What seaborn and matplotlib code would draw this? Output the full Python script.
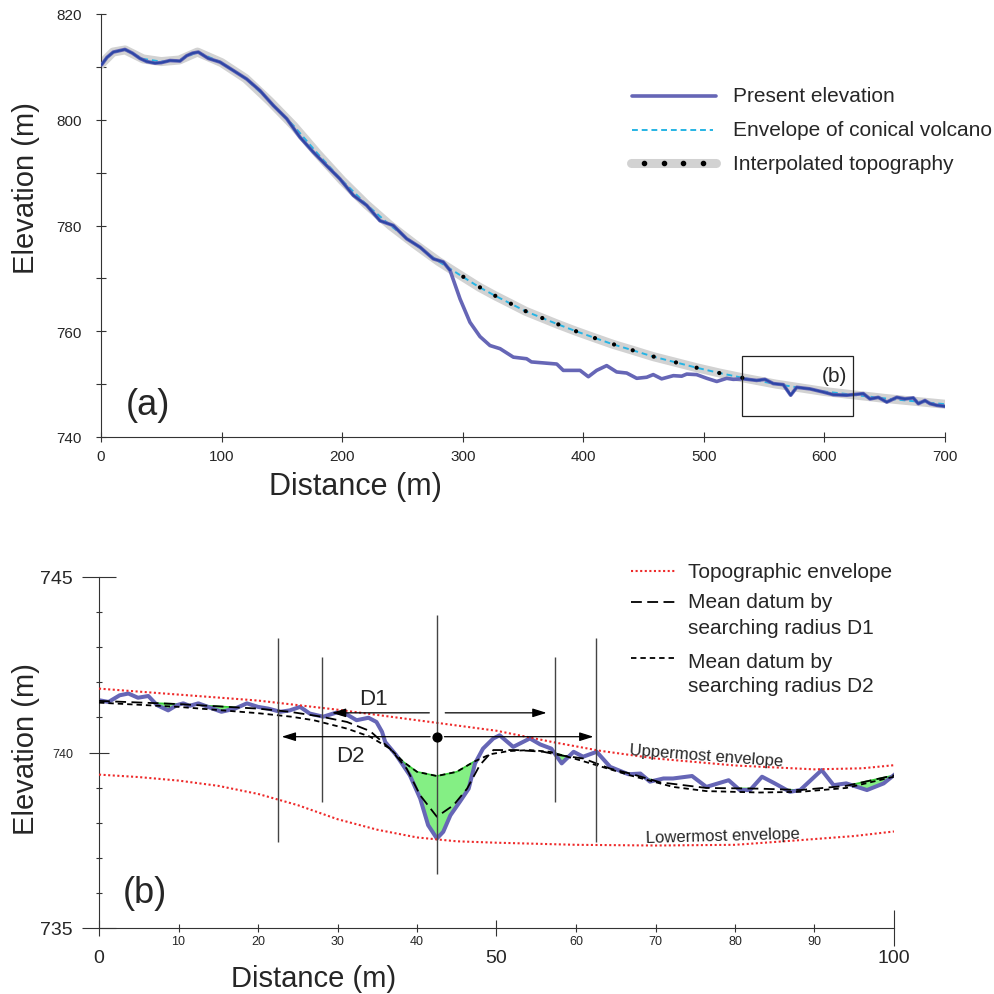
import numpy as np
import matplotlib
matplotlib.use('Agg')
import matplotlib.pyplot as plt
from matplotlib.lines import Line2D
from matplotlib.patches import Rectangle
import seaborn as sns

sns.set_theme(style='ticks')
plt.rcParams['font.family'] = ['Liberation Sans', 'DejaVu Sans']

# ---------------- panel (a) data ----------------
dist_a = [0.5, 5, 10.2, 19.9, 26, 32.3, 38, 44.8, 50, 57.2, 65.5, 71, 76, 80.7, 89, 98.7,
          109.8, 120.8, 131.9, 142.9, 154, 165, 176, 187.2, 198.2, 209.3, 220.4, 231.4,
          242.4, 253.5, 264.6, 275.6, 283.9, 289.5, 297.8, 306, 314.3, 322.6, 331, 342,
          353, 357, 378, 383.4, 397.3, 404.2, 411.1, 419.4, 427.7, 436, 444.3, 452.6, 458,
          465, 474.7, 481.6, 485.8, 494, 502.4, 510.7, 519, 524.4, 532.7, 543.8, 550.7,
          557.6, 565.9, 572, 577, 588, 599, 607.4, 618.5, 632.3, 637.8, 644.7, 651.7, 660,
          666.8, 673.7, 677.9, 683.4, 687.6, 693.1, 700]
elev_a = [810.4, 811.8, 812.8, 813.3, 812.6, 811.6, 811.0, 810.7, 810.8, 811.2, 811.1, 812.1,
          812.6, 812.8, 811.6, 810.9, 809.3, 807.7, 805.5, 802.7, 800.2, 796.7, 793.9, 791.3,
          788.8, 785.7, 783.8, 780.9, 780.0, 777.5, 775.9, 773.7, 773.1, 771.5, 766.1, 761.7,
          759.0, 757.3, 756.7, 755.1, 754.8, 754.2, 753.8, 752.6, 752.6, 751.4, 752.6, 753.5,
          752.3, 752.1, 751.1, 751.3, 751.8, 751.0, 751.6, 751.5, 751.9, 751.8, 751.1, 750.5,
          751.1, 750.9, 751.0, 750.7, 750.9, 750.1, 749.9, 747.9, 749.4, 749.1, 748.5, 748.0,
          747.9, 748.2, 747.2, 747.5, 746.6, 747.5, 747.2, 747.4, 746.3, 746.9, 746.3, 746.0,
          745.8]
env_d = [0, 10, 20, 35, 50, 65, 80, 100, 120, 140, 160, 180, 200, 220, 240, 260, 280, 300,
         314, 327, 340, 352, 366, 379, 394, 410, 425, 441, 458, 477, 494, 513, 532, 560, 600,
         650, 700]
env_e = [810.5, 812.8, 813.2, 811.5, 811.0, 811.3, 812.8, 810.8, 807.8, 803.5, 798.8, 793.5,
         788.5, 784.0, 780.0, 776.5, 773.2, 770.3, 768.3, 766.7, 765.2, 763.8, 762.5, 761.3,
         760.0, 758.7, 757.5, 756.4, 755.2, 754.1, 753.1, 752.1, 751.2, 750.0, 748.6, 747.3,
         746.2]
dot_d = [300.5, 314.3, 327, 340, 352.2, 366, 379.3, 394, 409.7, 425.5, 441, 458.4, 476.9,
         494, 512.8, 531.9]
dot_e = [770.3, 768.3, 766.7, 765.2, 763.8, 762.5, 761.3, 760.0, 758.7, 757.5, 756.4, 755.2,
         754.1, 753.1, 752.1, 751.2]
collapse_start, collapse_end = 290, 532
box_x = [532, 624]
box_y = [743.9, 755.4]

# ---------------- panel (b) data ----------------
dist_b = [0, 1.2, 2.6, 3.7, 4.9, 6.2, 7.3, 8.7, 9.8, 10.6, 11.4, 12.5, 13.7, 15.4, 17.1, 18.6,
          20.0, 21.3, 22.8, 24.0, 25.3, 26.5, 28.2, 29.9, 31.2, 32.4, 33.9, 34.9, 35.6, 36.0,
          37.4, 39.1, 40.4, 41.4, 42.5, 43.3, 44.2, 45.4, 46.5, 47.3, 48.3, 49.6, 50.4, 52.1,
          54.2, 55.5, 56.9, 58.2, 59.7, 60.9, 62.6, 64.3, 66.6, 68.1, 69.3, 71.0, 72.2, 74.6,
          76.4, 79.2, 80.6, 81.9, 83.4, 85.0, 86.9, 88.2, 90.9, 92.4, 94.0, 96.6, 98.7, 100.5]
elev_b = [741.49, 741.44, 741.63, 741.68, 741.56, 741.61, 741.35, 741.2, 741.35, 741.4,
          741.33, 741.4, 741.3, 741.16, 741.25, 741.4, 741.3, 741.25, 741.16, 741.2, 741.3,
          741.11, 741.02, 741.14, 741.08, 740.92, 740.99, 740.87, 740.59, 740.3, 739.92,
          739.35, 738.69, 737.93, 737.55, 737.74, 738.21, 738.6, 738.97, 739.69, 740.11,
          740.4, 740.49, 740.16, 740.4, 740.23, 740.11, 739.69, 740.02, 739.88, 740.02,
          739.59, 739.38, 739.4, 739.17, 739.26, 739.26, 739.33, 739.02, 739.21, 738.93,
          738.93, 739.31, 739.12, 738.88, 738.93, 739.5, 739.07, 739.12, 738.93, 739.12,
          739.45]
up_d = [0, 10, 20, 30, 40, 50, 57, 63, 70, 80, 90, 96, 101]
up_e = [741.82, 741.65, 741.48, 741.22, 740.92, 740.62, 740.3, 740.05, 739.83, 739.63,
        739.52, 739.55, 739.66]
lo_d = [0, 5, 10, 15, 20, 25, 30, 35, 40, 45, 50, 60, 70, 80, 88, 95, 100]
lo_e = [739.37, 739.3, 739.2, 739.05, 738.82, 738.5, 738.1, 737.8, 737.58, 737.47, 737.43,
        737.37, 737.35, 737.37, 737.5, 737.62, 737.75]
d1_d = [0, 10, 20, 24, 28, 31.2, 34.1, 36.6, 38.7, 40.4, 42.5, 44.6, 46.3, 47.9, 49.6, 52.5,
        55.9, 58, 60.9, 64.3, 66.8, 70.6, 76.4, 83.1, 88.2, 94, 100]
d1_e = [741.47, 741.38, 741.25, 741.16, 741.02, 740.87, 740.61, 740.11, 739.54, 738.78,
        738.17, 738.5, 738.97, 739.64, 740.07, 740.07, 740.02, 739.92, 739.83, 739.54, 739.4,
        739.15, 738.99, 738.97, 738.93, 739.05, 739.35]
d2_d = [0, 10, 20, 24.2, 27, 31.2, 34.1, 36.6, 38.3, 40, 42.5, 45, 47.1, 49.2, 51.5, 54.2,
        56.7, 60.5, 66.8, 72.2, 76.4, 83.1, 88.2, 94, 100]
d2_e = [741.42, 741.3, 741.12, 741.02, 740.92, 740.68, 740.45, 740.11, 739.73, 739.45,
        739.33, 739.45, 739.73, 739.95, 740.04, 740.07, 740.02, 739.78, 739.35, 739.02,
        738.9, 738.86, 738.88, 738.99, 739.31]
center_x = 42.55
d1_lines = [28.1, 57.3]
d1_span = [738.6, 742.73]
d2_lines = [22.55, 62.56]
d2_span = [737.46, 743.27]
center_span = [736.55, 743.93]
d1_row = 741.13
d2_row = 740.45

# ---------------- figure ----------------
W = 995.0
fig = plt.figure(figsize=(9.95, 9.95), dpi=100)
ax1 = fig.add_axes([101 / W, 1 - 438 / W, 844 / W, 423 / W])
ax2 = fig.add_axes([99 / W, 1 - 929 / W, 795 / W, 351 / W])

LAV = '#6666b6'
DARK = '#2d46a6'
CYAN = '#26b4e4'
GREY = '#d2d2d2'
RED = '#ee2a2a'

# ---- panel (a)
sns.lineplot(x=env_d, y=env_e, ax=ax1, color=GREY, lw=6.5, estimator=None, sort=False,
             solid_capstyle='round', zorder=1)
sns.lineplot(x=env_d, y=env_e, ax=ax1, color=CYAN, lw=1.4, estimator=None, sort=False,
             linestyle=(0, (3, 2)), zorder=2)
sns.lineplot(x=dist_a, y=elev_a, ax=ax1, color=LAV, lw=2.6, estimator=None, sort=False,
             zorder=3)
da = np.array(dist_a)
ea = np.array(elev_a)
m1 = da <= collapse_start
m2 = da >= collapse_end
sns.lineplot(x=da[m1], y=ea[m1], ax=ax1, color=DARK, lw=1.5, estimator=None, sort=False, zorder=4)
sns.lineplot(x=da[m2], y=ea[m2], ax=ax1, color=DARK, lw=1.5, estimator=None, sort=False, zorder=4)
sns.scatterplot(x=dot_d, y=dot_e, ax=ax1, color='black', s=9, edgecolor='none', zorder=5)
ax1.add_patch(Rectangle((box_x[0], box_y[0]), box_x[1] - box_x[0], box_y[1] - box_y[0],
                        fill=False, ec='#222222', lw=0.9, zorder=6))
ax1.text(607.9, 751.7, '(b)', fontsize=15, ha='center', va='center')
ax1.text(38.6, 746.2, '(a)', fontsize=26, ha='center', va='center')

ax1.set_xlim(0, 700)
ax1.set_ylim(740, 820)
ax1.set_xticks(np.arange(0, 701, 100))
ax1.set_yticks(np.arange(740, 821, 20))
ax1.set_yticks(np.arange(750, 811, 20), minor=True)
ax1.tick_params(which='both', direction='inout', length=7.2, width=0.8, color='#333333',
                labelsize=11, bottom=True, left=True)
ax1.tick_params(axis='y', pad=10)
ax1.tick_params(axis='x', pad=5)
for s in ['top', 'right']:
    ax1.spines[s].set_visible(False)
for s in ['left', 'bottom']:
    ax1.spines[s].set_linewidth(0.8)
    ax1.spines[s].set_color('#333333')
ax1.set_xlabel('Distance (m)', fontsize=22)
ax1.set_ylabel('Elevation (m)', fontsize=21)
ax1.xaxis.set_label_coords(0.301, -0.080)
ax1.yaxis.set_label_coords(-0.0723, 0.591)


def fy(py):
    return 1 - py / W


def fx(px):
    return px / W


# legend (a)
fig.add_artist(Line2D([fx(632), fx(716)], [fy(96.7)] * 2, color=LAV, lw=2.6))
fig.add_artist(Line2D([fx(632), fx(713)], [fy(131)] * 2, color=CYAN, lw=1.4,
                      linestyle=(0, (3, 2))))
fig.add_artist(Line2D([fx(631), fx(716)], [fy(164.3)] * 2, color=GREY, lw=6.5,
                      solid_capstyle='round'))
fig.add_artist(Line2D([fx(644.3), fx(663.7), fx(683.3), fx(702.7)], [fy(164.3)] * 4,
                      color='black', marker='o', ms=3, linestyle='none'))
for yy, t in [(96.7, 'Present elevation'), (131, 'Envelope of conical volcano'),
              (164.3, 'Interpolated topography')]:
    fig.text(fx(733), fy(yy), t, fontsize=15, ha='left', va='center')

# ---- panel (b)
grid = np.linspace(0, 100.5, 3000)
pb = np.interp(grid, dist_b, elev_b)
datum_top = np.maximum(np.interp(grid, d1_d, d1_e), np.interp(grid, d2_d, d2_e))
ax2.fill_between(grid, pb, datum_top, where=pb < datum_top, interpolate=True,
                 facecolor='#84ef84', edgecolor='#35cc35', lw=1.2, zorder=1)
sns.lineplot(x=dist_b, y=elev_b, ax=ax2, color=LAV, lw=2.9, estimator=None, sort=False,
             zorder=2)
sns.lineplot(x=up_d, y=up_e, ax=ax2, color=RED, lw=1.5, estimator=None, sort=False,
             linestyle=(0, (1, 1.2)), zorder=3)
sns.lineplot(x=lo_d, y=lo_e, ax=ax2, color=RED, lw=1.5, estimator=None, sort=False,
             linestyle=(0, (1, 1.2)), zorder=3)
sns.lineplot(x=d1_d, y=d1_e, ax=ax2, color='black', lw=1.3, estimator=None, sort=False,
             linestyle=(0, (6, 3)), zorder=4)
sns.lineplot(x=d2_d, y=d2_e, ax=ax2, color='black', lw=1.3, estimator=None, sort=False,
             linestyle=(0, (3, 2.2)), zorder=4)

ax2.vlines(d1_lines, d1_span[0], d1_span[1], color='#444444', lw=1.0, zorder=5)
ax2.vlines(d2_lines, d2_span[0], d2_span[1], color='#444444', lw=1.0, zorder=5)
ax2.vlines([center_x], center_span[0], center_span[1], color='#444444', lw=1.0, zorder=5)

arr = dict(arrowstyle='-|>,head_length=0.7,head_width=0.22', color='black', lw=0.9,
           shrinkA=0, shrinkB=0)
ax2.annotate('', xy=(29.3, d1_row), xytext=(center_x - 1.0, d1_row), arrowprops=arr, zorder=6)
ax2.annotate('', xy=(56.3, d1_row), xytext=(center_x + 1.0, d1_row), arrowprops=arr, zorder=6)
ax2.annotate('', xy=(22.98, d2_row), xytext=(center_x - 0.9, d2_row), arrowprops=arr, zorder=6)
ax2.annotate('', xy=(62.2, d2_row), xytext=(center_x + 0.9, d2_row), arrowprops=arr, zorder=6)
ax2.scatter([center_x], [d2_row], s=40, color='black', zorder=7)

ax2.text(34.55, 741.54, 'D1', fontsize=16, ha='center', va='center')
ax2.text(31.57, 739.92, 'D2', fontsize=16, ha='center', va='center')
ax2.text(76.4, 739.92, 'Uppermost envelope', fontsize=12, ha='center', va='center',
         rotation=-4.3, rotation_mode='anchor')
ax2.text(78.5, 737.64, 'Lowermost envelope', fontsize=12, ha='center', va='center',
         rotation=1.6, rotation_mode='anchor')
ax2.text(5.72, 736.0, '(b)', fontsize=26, ha='center', va='center')

ax2.set_xlim(0, 100)
ax2.set_ylim(735, 745)
ax2.set_xticks([0, 50, 100])
ax2.set_xticklabels(['0', '50', '100'], fontsize=14)
ax2.set_xticks([10, 20, 30, 40, 60, 70, 80, 90], minor=True)
ax2.set_xticklabels(['10', '20', '30', '40', '60', '70', '80', '90'], minor=True, fontsize=9)
ax2.set_yticks([735, 740, 745])
ax2.set_yticklabels(['735', '740', '745'], fontsize=14)
ax2.set_yticks([736, 737, 738, 739, 741, 742, 743, 744], minor=True)
ax2.tick_params(which='both', direction='inout', color='#333333', width=0.8,
                bottom=True, left=True)
ax2.tick_params(axis='x', which='major', length=11.5, pad=9.4)
ax2.tick_params(axis='x', which='minor', length=5.8, pad=2.1)
ax2.tick_params(axis='y', which='major', length=23.8, pad=6.8)
ax2.tick_params(axis='y', which='minor', length=5.0)
yt = ax2.yaxis.get_major_ticks()
yt[1].tick1line.set_markersize(13.7)
yt[1].label1.set_fontsize(9)
xt = ax2.xaxis.get_major_ticks()
xt[2].tick1line.set_markersize(26.6)
for s in ['top', 'right']:
    ax2.spines[s].set_visible(False)
for s in ['left', 'bottom']:
    ax2.spines[s].set_linewidth(0.8)
    ax2.spines[s].set_color('#333333')
ax2.set_xlabel('Distance (m)', fontsize=21)
ax2.set_ylabel('Elevation (m)', fontsize=21)
ax2.xaxis.set_label_coords(0.270, -0.1026)
ax2.yaxis.set_label_coords(-0.0742, 0.513)

# legend (b)
fig.add_artist(Line2D([fx(631), fx(675)], [fy(572)] * 2, color=RED, lw=1.5,
                      linestyle=(0, (1, 1.2))))
fig.add_artist(Line2D([fx(631), fx(675)], [fy(603)] * 2, color='black', lw=1.3,
                      linestyle=(0, (6, 3))))
fig.add_artist(Line2D([fx(631), fx(675)], [fy(659)] * 2, color='black', lw=1.3,
                      linestyle=(0, (3, 2.2))))
for yy, t in [(573, 'Topographic envelope'), (603, 'Mean datum by'),
              (628, 'searching radius D1'), (662, 'Mean datum by'),
              (687, 'searching radius D2')]:
    fig.text(fx(688), fy(yy), t, fontsize=15, ha='left', va='center')

fig.savefig('out.png', dpi=100, facecolor='white')
